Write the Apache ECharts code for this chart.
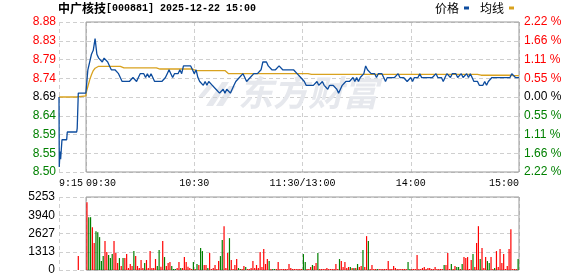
<!DOCTYPE html>
<html><head><meta charset="utf-8">
<script src="https://cdn.jsdelivr.net/npm/echarts@6/dist/echarts.min.js"></script>
<style>html,body{margin:0;padding:0;background:#fff}#c{width:578px;height:276px}</style>
</head><body><div id="c"></div>
<script>
// ---------- data ----------
const PRE_CLOSE = 8.69;
const PCT_MAX = 2.22;
const PCT_STEP = 0.555;
const priceLabels = ['8.50','8.55','8.59','8.64','8.69','8.74','8.79','8.83','8.88'];
const pctLabels = ['2.22 %','1.66 %','1.11 %','0.55 %','0.00 %','0.55 %','1.11 %','1.66 %','2.22 %'];
const labelColors = ['#008000','#008000','#008000','#008000','#000000','#ff0000','#ff0000','#ff0000','#ff0000'];
const VOL_MAX = 5253;
const VOL_STEP = 1313.25;
const volLabels = ['0','1313','2627','3940','5253'];
const timeTicks = [0,15,75,135,195,255];
const timeLabels = ['9:15','09:30','10:30','11:30/13:00','14:00','15:00'];
const SESSION_START = 15;
const SESSION_END = 255;

// pre-market auction (minutes after 9:15)
const preMinutes = [0, 0.15, 0.55, 0.9, 1.65, 4.25, 4.6, 9.8, 10.1, 10.7, 14.9];
const prePrices  = [8.69, 8.51, 8.55, 8.53, 8.58, 8.58, 8.60, 8.60, 8.61, 8.70, 8.70];
const preAvgMinutes = [0, 9.8, 10.1, 14.9];
const preAvg = [8.69, 8.69, 8.693, 8.693];
const preVolMinute = 10.7;
const preVolume = 1000;

// regular session, one value per minute 09:30 .. 15:00
const prices = [
8.70,8.76,8.76,8.80,8.81,8.84,8.80,8.79,8.79,8.78,
8.79,8.79,8.78,8.77,8.76,8.76,8.76,8.76,8.75,8.75,
8.73,8.73,8.73,8.73,8.73,8.73,8.74,8.74,8.73,8.74,
8.75,8.75,8.75,8.74,8.75,8.74,8.75,8.74,8.73,8.73,
8.73,8.73,8.73,8.73,8.74,8.75,8.76,8.75,8.74,8.75,
8.75,8.75,8.76,8.75,8.77,8.77,8.77,8.77,8.77,8.76,
8.75,8.76,8.74,8.73,8.73,8.72,8.73,8.72,8.73,8.73,
8.72,8.72,8.71,8.71,8.70,8.70,8.71,8.70,8.71,8.71,
8.70,8.71,8.72,8.73,8.73,8.74,8.74,8.75,8.74,8.73,
8.73,8.74,8.74,8.75,8.75,8.75,8.75,8.76,8.78,8.78,
8.78,8.77,8.77,8.76,8.76,8.76,8.76,8.77,8.77,8.76,
8.76,8.76,8.76,8.76,8.76,8.76,8.76,8.75,8.75,8.74,
8.74,8.73,8.72,8.72,8.72,8.72,8.72,8.72,8.73,8.72,
8.72,8.73,8.72,8.72,8.71,8.72,8.72,8.72,8.72,8.71,
8.70,8.71,8.72,8.72,8.73,8.73,8.73,8.73,8.74,8.73,
8.74,8.73,8.74,8.74,8.75,8.77,8.76,8.76,8.75,8.75,
8.75,8.74,8.75,8.75,8.75,8.74,8.73,8.74,8.74,8.74,
8.74,8.74,8.74,8.75,8.74,8.74,8.74,8.74,8.73,8.73,
8.74,8.73,8.74,8.74,8.74,8.75,8.74,8.74,8.74,8.74,
8.74,8.74,8.74,8.74,8.75,8.74,8.74,8.74,8.73,8.74,
8.75,8.75,8.74,8.75,8.75,8.75,8.74,8.74,8.75,8.74,
8.74,8.75,8.74,8.75,8.74,8.73,8.73,8.73,8.72,8.72,
8.72,8.73,8.72,8.73,8.73,8.74,8.74,8.74,8.74,8.74,
8.74,8.74,8.74,8.74,8.74,8.74,8.75,8.75,8.74,8.74,
8.74
];
const avgPrices = [
8.700,8.717,8.734,8.747,8.758,8.764,8.768,
8.769,8.769,8.769,8.769,8.769,8.769,8.769,8.769,8.769,8.769,8.769,8.769,8.769,8.769,
8.765,8.765,8.765,8.765,8.765,8.765,8.765,8.765,8.765,8.765,8.765,8.765,8.765,8.765,8.765,8.765,8.765,8.765,8.765,
8.762,8.762,8.762,8.762,8.762,8.762,8.762,8.762,8.762,8.762,8.762,8.762,8.762,8.762,8.762,8.762,8.762,8.762,8.762,8.762,
8.758,8.758,8.758,8.758,8.758,8.758,8.758,8.758,8.758,8.758,8.758,8.758,8.758,8.758,8.758,8.758,8.758,8.758,8.758,
8.750,8.750,8.750,8.750,8.750,8.750,8.750,8.750,8.750,8.750,8.750,8.750,8.750,8.750,8.750,8.750,8.750,8.750,8.750,8.750,
8.750,8.750,8.750,8.750,8.750,8.750,8.750,8.750,8.750,8.750,8.750,8.750,8.750,8.750,8.750,8.750,8.750,8.750,8.750,8.750,
8.750,8.750,8.750,8.750,8.750,8.750,
8.748,8.748,8.748,8.748,8.748,8.748,8.748,8.748,8.748,8.748,8.748,8.748,8.748,8.748,8.748,8.748,8.748,8.748,8.748,8.748,
8.748,8.748,8.748,8.748,8.748,8.748,8.748,8.748,8.748,8.748,8.748,8.748,8.748,8.748,8.748,8.748,8.748,8.748,8.748,8.748,
8.748,8.748,8.748,8.748,8.748,8.748,8.748,8.748,8.748,8.748,8.748,8.748,8.748,8.748,8.748,8.748,8.748,8.748,8.748,8.748,
8.748,8.748,8.748,8.748,8.748,8.748,8.748,8.748,8.748,8.748,8.748,8.748,8.748,8.748,8.748,8.748,8.748,8.748,8.748,8.748,
8.748,8.748,8.748,8.748,8.748,8.748,8.748,8.748,8.748,8.748,8.748,8.748,8.748,
8.746,8.746,8.746,8.746,8.746,8.746,8.746,8.746,8.746,8.746,8.746,8.746,8.746,8.746,8.746,8.746,8.746,8.746,
8.748,
8.745,8.745,8.745,8.745
];
// per-minute volume 09:31 .. 15:00
const volumes = [
4875,3800,3800,3083,1936,2796,2725,2366,645,1000,
2080,1290,1075,860,1147,2080,1219,500,860,287,
860,860,1147,143,430,287,1362,1004,287,143,
717,143,500,717,143,1362,143,143,789,287,
1434,230,2080,932,287,500,573,287,72,72,
143,573,143,143,932,573,230,143,72,573,
72,430,358,1577,1362,358,358,143,1219,72,
143,358,72,645,1004,2150,3154,143,1219,2294,
717,72,358,789,143,72,72,287,215,72,
72,143,645,143,358,143,1290,215,1505,430,
789,645,72,72,72,72,573,72,72,72,
72,72,430,143,72,72,72,72,72,72,
1147,573,72,72,215,358,287,500,1219,72,
72,72,72,143,72,72,72,72,430,72,
789,645,215,573,143,215,215,143,143,143,
430,215,287,1434,215,2438,2080,72,358,72,
72,72,72,72,72,72,72,645,72,72,
287,143,72,72,72,72,72,72,573,72,
72,72,72,1075,72,72,143,215,72,143,
143,72,72,215,72,72,72,72,358,358,
1219,72,430,72,287,215,215,72,430,932,
860,932,72,717,1147,215,1936,3154,789,1577,
143,932,645,500,932,72,143,1362,215,1505,
500,1147,72,287,1505,2940,72,72,72,789
];
const volDirs = (
'RGGRRGGGGG'+'RRGGGRRRGR'+'GRRRRRGRRR'+'RRGRRRRRRG'+'GRRGRRRGGG'+
'RRGRRRRRRG'+'RGRGGRRGRR'+'RRRRGGRRRG'+'RRRRGGRRGR'+'RRRRRRRRRR'+
'RGRGGRRRRR'+'RRRRRRRRRR'+'GGRRRGRRGR'+'RRRRRRRRRR'+'GRRRRRGRGR'+
'GRRGRRGRRR'+'RGRRRRRRRR'+'RRRRRRRRGG'+'RRRRRRRRRR'+'RRRRRRRRGR'+
'RRGRRGGRGR'+'RRRRGRRRGR'+'RRGGRRGRRR'+'RRRRRRRRRG').split('');
const preVolDir = 'R';

// ---------- styles ----------
const UP = '#ff0000', DOWN = '#008000';
const PRICE_COLOR = '#0d4c9e', AVG_COLOR = '#d9a21f';
const GRID_DASH = {color:'#cfcfcf', type:[4,3], width:1};
const FRAME = '#999999';
const WATERMARK = '#e6e8ed';
const sans = '"Liberation Sans", Arial, sans-serif';
const mono = '"Liberation Mono", "DejaVu Sans Mono", monospace';
const cjk = '"Noto Sans CJK SC", sans-serif';

const toPct = p => (p - PRE_CLOSE) / PRE_CLOSE * 100;
const pctIdx = v => Math.round((parseFloat(v) + PCT_MAX) / PCT_STEP);

const priceData = preMinutes.map((m,i)=>[m, toPct(prePrices[i])])
  .concat(prices.map((p,i)=>[SESSION_START + i, toPct(p)]));
const avgData = preAvgMinutes.map((m,i)=>[m, toPct(preAvg[i])])
  .concat(avgPrices.map((p,i)=>[SESSION_START + i, toPct(p)]));
const volData = [{value:[preVolMinute, preVolume], itemStyle:{color: preVolDir==='R'?UP:DOWN}}]
  .concat(volumes.map((v,i)=>({value:[SESSION_START + 0.5 + i, v], itemStyle:{color: volDirs[i]==='R'?UP:DOWN}})));

const chart = echarts.init(document.getElementById('c'), null, {renderer:'canvas'});
chart.setOption({
  animation:false,
  backgroundColor:'#ffffff',
  title:{
    text:'{a|中广核技}{b|[000881] 2025-12-22 15:00}',
    left:58, top:2, padding:0,
    textStyle:{rich:{
      a:{fontFamily:cjk, fontSize:12, color:'#000'},
      b:{fontFamily:mono, fontSize:10, color:'#000'}
    }}
  },
  legend:{
    top:2, right:64, padding:0, itemGap:11, itemWidth:5, itemHeight:3,
    icon:'rect', align:'right', selectedMode:false,
    textStyle:{fontFamily:cjk, fontSize:12, color:'#000'},
    data:['价格','均线']
  },
  grid:[
    {left:59, top:22, width:460, height:150, outerBoundsMode:'none', containLabel:false},
    {left:59, top:197, width:460, height:73, outerBoundsMode:'none', containLabel:false}
  ],
  xAxis:[
    {type:'value', gridIndex:0, min:0, max:SESSION_END,
     axisLine:{show:false}, axisTick:{show:false, customValues:timeTicks},
     splitLine:{show:true, lineStyle:GRID_DASH},
     axisLabel:{show:true, customValues:timeTicks, margin:6, color:'#000',
       fontFamily:mono, fontSize:10, hideOverlap:false,
       showMinLabel:true, showMaxLabel:true,
       alignMinLabel:'left', alignMaxLabel:'right',
       formatter:v=>{const i=timeTicks.indexOf(Number(v)); const t=timeLabels[i]||''; return i===1?'{p|'+t+'}':t;},
       rich:{p:{padding:[0,0,0,30], fontFamily:mono, fontSize:10, color:'#000'}}}},
    {type:'value', gridIndex:1, min:0, max:SESSION_END,
     axisLine:{show:false}, axisTick:{show:false, customValues:timeTicks},
     splitLine:{show:true, lineStyle:GRID_DASH},
     axisLabel:{show:false}}
  ],
  yAxis:[
    {type:'value', gridIndex:0, position:'left', min:-PCT_MAX, max:PCT_MAX, interval:PCT_STEP,
     axisLine:{show:false}, axisTick:{show:false},
     splitLine:{show:true, lineStyle:GRID_DASH},
     axisLabel:{margin:3, fontFamily:sans, fontSize:12,
       formatter:v=>priceLabels[pctIdx(v)], color:v=>labelColors[pctIdx(v)]}},
    {type:'value', gridIndex:0, position:'right', min:-PCT_MAX, max:PCT_MAX, interval:PCT_STEP,
     axisLine:{show:false}, axisTick:{show:false}, splitLine:{show:false},
     axisLabel:{margin:5, fontFamily:sans, fontSize:12,
       formatter:v=>pctLabels[pctIdx(v)], color:v=>labelColors[pctIdx(v)]}},
    {type:'value', gridIndex:1, min:0, max:VOL_MAX, interval:VOL_STEP,
     axisLine:{show:false}, axisTick:{show:false},
     splitLine:{show:true, lineStyle:GRID_DASH},
     axisLabel:{margin:4, fontFamily:sans, fontSize:12, color:'#000',
       formatter:v=>volLabels[Math.round(parseFloat(v)/VOL_STEP)]}}
  ],
  graphic:[
    {type:'group', silent:true, z:1, children:[
      {type:'polygon', shape:{points:[[198,97],[204,97],[214,85],[208,85]]}, style:{fill:WATERMARK}},
      {type:'polygon', shape:{points:[[206,106],[213,106],[229,82],[222,82]]}, style:{fill:WATERMARK}},
      {type:'polygon', shape:{points:[[216,106],[223,106],[236,86],[229,86]]}, style:{fill:WATERMARK}}
    ]},
    {type:'text', left:238, top:75, z:1, silent:true,
     style:{text:'东方财富', fontFamily:cjk, fontSize:35, fontWeight:'bold', fontStyle:'italic', fill:WATERMARK}}
  ],
  series:[
    {name:'价格', type:'line', xAxisIndex:0, yAxisIndex:0, data:priceData,
     symbol:'none', z:4, lineStyle:{color:PRICE_COLOR, width:1.3}, itemStyle:{color:PRICE_COLOR},
     markArea:{silent:true, itemStyle:{color:'rgba(0,0,0,0)', borderColor:FRAME, borderWidth:1},
       data:[[{xAxis:SESSION_START, yAxis:-PCT_MAX},{xAxis:SESSION_END, yAxis:PCT_MAX}]]}},
    {name:'均线', type:'line', xAxisIndex:0, yAxisIndex:0, data:avgData,
     symbol:'none', z:3, lineStyle:{color:AVG_COLOR, width:1.3}, itemStyle:{color:AVG_COLOR}},
    {name:'成交量', type:'bar', xAxisIndex:1, yAxisIndex:2, data:volData, barWidth:1.2, z:3,
     markArea:{silent:true, itemStyle:{color:'rgba(0,0,0,0)', borderColor:FRAME, borderWidth:1},
       data:[[{xAxis:SESSION_START, yAxis:0},{xAxis:SESSION_END, yAxis:VOL_MAX}]]}}
  ]
});
</script>
</body></html>
